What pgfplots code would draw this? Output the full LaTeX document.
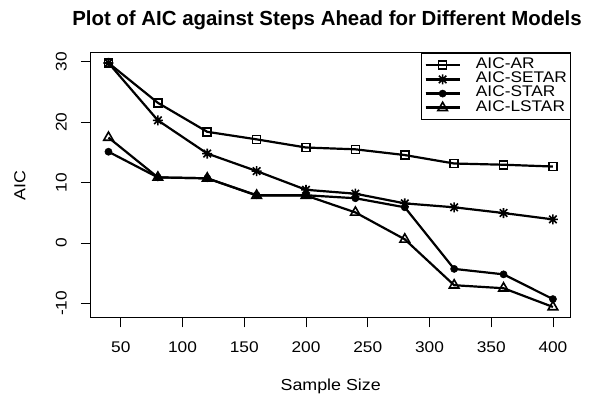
\documentclass[border=0pt]{standalone}
\usepackage{pgfplots}
\pgfplotsset{compat=1.18}
\usepackage{fontspec}
\setmainfont[FakeStretch=1.12]{Liberation Sans}
\newfontfamily\titlefont{Liberation Sans}
\pgfdeclareplotmark{rstar}{%
  \pgfpathmoveto{\pgfqpoint{-\pgfplotmarksize}{0pt}}\pgfpathlineto{\pgfqpoint{\pgfplotmarksize}{0pt}}%
  \pgfpathmoveto{\pgfqpoint{0pt}{-\pgfplotmarksize}}\pgfpathlineto{\pgfqpoint{0pt}{\pgfplotmarksize}}%
  \pgfpathmoveto{\pgfqpoint{-.75\pgfplotmarksize}{-.75\pgfplotmarksize}}\pgfpathlineto{\pgfqpoint{.75\pgfplotmarksize}{.75\pgfplotmarksize}}%
  \pgfpathmoveto{\pgfqpoint{-.75\pgfplotmarksize}{.75\pgfplotmarksize}}\pgfpathlineto{\pgfqpoint{.75\pgfplotmarksize}{-.75\pgfplotmarksize}}%
  \pgfusepathqstroke}
\begin{document}
\begin{tikzpicture}
\path[use as bounding box] (0,0) rectangle (599bp,399bp);
\begin{axis}[
  at={(90.7bp,81.3bp)}, anchor=south west,
  scale only axis, width=480bp, height=265bp,
  xmin=25.6, xmax=414.4, ymin=-12.38, ymax=31.5,
  xtick={50,100,...,400}, ytick={-10,0,10,20,30},
  xtick pos=bottom, ytick pos=left,
  tick align=outside, major tick length=9.7bp,
  every tick/.style={black, line width=0.8bp},
  axis line style={line width=0.8bp},
  /pgf/number format/assume math mode=true,
  ticklabel style={font=\fontsize{15.5}{17}\selectfont, inner sep=0pt},
  yticklabel style={rotate=90, anchor=south},
  xticklabel style={anchor=north},
  xticklabel shift=14bp, yticklabel shift=14bp,
  xlabel={Sample Size}, ylabel={AIC},
  every axis x label/.style={at={(axis description cs:0.5,0)}, yshift=-69bp, anchor=center, font=\fontsize{16}{18}\selectfont},
  every axis y label/.style={at={(axis description cs:0,0.5)}, xshift=-70.7bp, rotate=90, anchor=center, font=\fontsize{16}{18}\selectfont},
  legend style={at={(rel axis cs:1,1)}, anchor=north east, draw=black, line width=0.8bp,
    inner xsep=3.4bp, inner ysep=5bp, row sep=0pt,
    font=\fontsize{15.5}{15.5}\selectfont,
    nodes={inner sep=0pt, text height=10.5bp, text depth=3.7bp},
    /tikz/every odd column/.append style={column sep=15bp}},
  legend cell align=left,
  legend image code/.code={%
    \draw[black,line width=2.6bp] (0bp,0bp) -- (34bp,0bp);
    \draw[mark repeat=2,mark phase=2,#1,black] plot coordinates {(0bp,0bp) (17bp,0bp) (34bp,0bp)};},
  every axis plot/.append style={black, line width=2.2bp},
]
\addplot[mark=square, mark size=4bp, mark options={line width=1.6bp}] coordinates {
(40,29.8) (80,23.2) (120,18.4) (160,17.15) (200,15.8) (240,15.5) (280,14.55) (320,13.15) (360,12.95) (400,12.65)};
\addlegendentry{AIC-AR}
\addplot[mark=rstar, mark size=5bp, mark options={line width=1.6bp}] coordinates {
(40,29.8) (80,20.3) (120,14.8) (160,11.9) (200,8.8) (240,8.15) (280,6.55) (320,5.9) (360,4.95) (400,3.9)};
\addlegendentry{AIC-SETAR}
\addplot[mark=*, mark size=3.6bp, mark options={line width=0.5bp}] coordinates {
(40,15.1) (80,10.85) (120,10.7) (160,7.9) (200,7.9) (240,7.4) (280,5.9) (320,-4.3) (360,-5.2) (400,-9.3)};
\addlegendentry{AIC-STAR}
\addplot[mark=triangle, mark size=5.5bp, mark options={line width=1.6bp}] coordinates {
(40,17.45) (80,10.85) (120,10.7) (160,7.85) (200,7.85) (240,5.05) (280,0.6) (320,-7.0) (360,-7.5) (400,-10.6)};
\addlegendentry{AIC-LSTAR}
\end{axis}
\node[anchor=base, font=\titlefont\bfseries\fontsize{20.5}{24}\selectfont, inner sep=0pt] at (327bp,373bp) {Plot of AIC against Steps Ahead for Different Models};
\end{tikzpicture}
\end{document}
